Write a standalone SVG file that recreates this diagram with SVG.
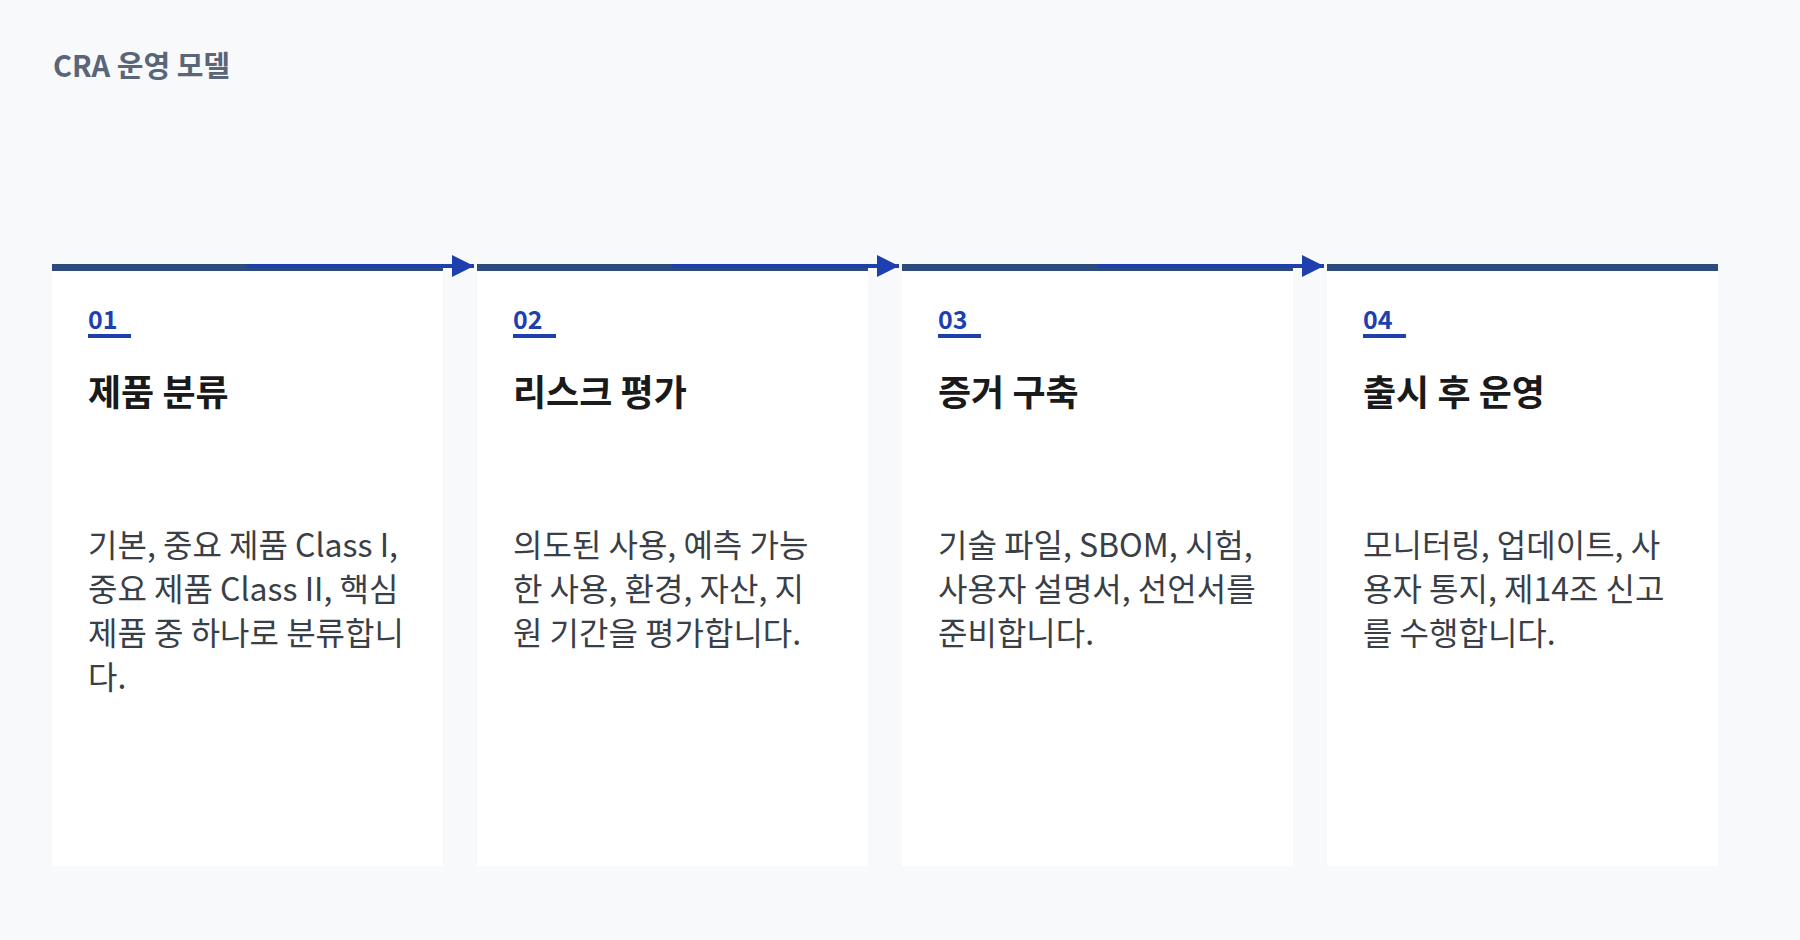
<svg xmlns="http://www.w3.org/2000/svg" width="1800" height="940" viewBox="0 0 1800 940">
<defs>
<marker id="ah" markerWidth="22" markerHeight="22" refX="22" refY="11" orient="auto" markerUnits="userSpaceOnUse" viewBox="0 0 22 22"><path d="M0,0 L22,11 L0,22 z" fill="#1e40af"/></marker>
<style>
text{font-family:"Noto Sans CJK KR","Noto Sans",sans-serif}
.card{fill:#ffffff}
.bar{fill:#2d4a7c}
.num{font-size:25px;font-weight:700;fill:#1e40af}
.ul{fill:#1e40af}
.head{font-size:36px;font-weight:700;fill:#1a1a1a}
.body{font-size:32px;fill:#3a3f47}
.conn{stroke:#1e40af;stroke-width:4;fill:none}
</style>
</defs>
<rect width="1800" height="940" fill="#f8f9fb"/>
<text x="53" y="77" fill="#5a6577" style="font-size:29px;font-weight:700">CRA 운영 모델</text>
<g id="node1">
<rect class="card" x="52" y="264" width="391" height="602"/>
<rect class="bar" x="52" y="264" width="391" height="7"/>
<text class="num" x="88" y="329">01</text><rect class="ul" x="88" y="334" width="43" height="4"/>
<text class="head" x="88" y="406">제품 분류</text>
<text class="body" x="88" y="557"><tspan x="88">기본, 중요 제품 Class I,</tspan><tspan x="88" dy="44">중요 제품 Class II, 핵심</tspan><tspan x="88" dy="44">제품 중 하나로 분류합니</tspan><tspan x="88" dy="44">다.</tspan></text>
</g>
<g id="node2">
<rect class="card" x="477" y="264" width="391" height="602"/>
<rect class="bar" x="477" y="264" width="391" height="7"/>
<text class="num" x="513" y="329">02</text><rect class="ul" x="513" y="334" width="43" height="4"/>
<text class="head" x="513" y="406">리스크 평가</text>
<text class="body" x="513" y="557"><tspan x="513">의도된 사용, 예측 가능</tspan><tspan x="513" dy="44">한 사용, 환경, 자산, 지</tspan><tspan x="513" dy="44">원 기간을 평가합니다.</tspan></text>
</g>
<g id="node3">
<rect class="card" x="902" y="264" width="391" height="602"/>
<rect class="bar" x="902" y="264" width="391" height="7"/>
<text class="num" x="938" y="329">03</text><rect class="ul" x="938" y="334" width="43" height="4"/>
<text class="head" x="938" y="406">증거 구축</text>
<text class="body" x="938" y="557"><tspan x="938">기술 파일, SBOM, 시험,</tspan><tspan x="938" dy="44">사용자 설명서, 선언서를</tspan><tspan x="938" dy="44">준비합니다.</tspan></text>
</g>
<g id="node4">
<rect class="card" x="1327" y="264" width="391" height="602"/>
<rect class="bar" x="1327" y="264" width="391" height="7"/>
<text class="num" x="1363" y="329">04</text><rect class="ul" x="1363" y="334" width="43" height="4"/>
<text class="head" x="1363" y="406">출시 후 운영</text>
<text class="body" x="1363" y="557"><tspan x="1363">모니터링, 업데이트, 사</tspan><tspan x="1363" dy="44">용자 통지, 제14조 신고</tspan><tspan x="1363" dy="44">를 수행합니다.</tspan></text>
</g>
<g id="connectors">
<line class="conn" x1="247" y1="266" x2="474" y2="266" marker-end="url(#ah)"/>
<line class="conn" x1="672" y1="266" x2="899" y2="266" marker-end="url(#ah)"/>
<line class="conn" x1="1097" y1="266" x2="1324" y2="266" marker-end="url(#ah)"/>
</g>
</svg>
